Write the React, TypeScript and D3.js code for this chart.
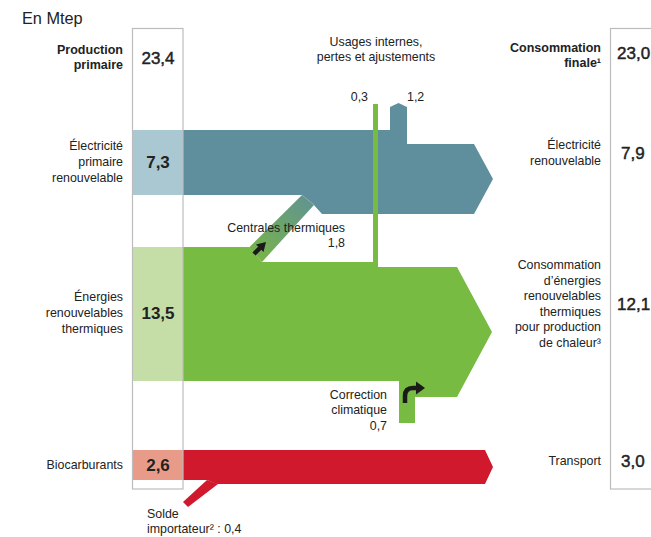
import React from "react";
import * as d3 from "d3";

// ---- data ----
const unit = "En Mtep";
const totalProduction = 23.4;
const totalConsumption = 23.0;
const primaryLabels = [["Électricité", "primaire", "renouvelable"], ["Énergies", "renouvelables", "thermiques"], ["Biocarburants"]];
const primaryValues = [7.3, 13.5, 2.6];
const finalLabels = [["Électricité", "renouvelable"], ["Consommation", "d’énergies", "renouvelables", "thermiques", "pour production", "de chaleur³"], ["Transport"]];
const finalValues = [7.9, 12.1, 3.0];
const centralesValue = 1.8;
const usagesValues = [0.3, 1.2];
const correctionValue = 0.7;
const soldeValue = 0.4;

// ---- layout ----
const W = 651, H = 537;
const FONT = "'Liberation Sans', Arial, Helvetica, sans-serif";
const fmt = (v: number) => d3.format(".1f")(v).replace(".", ",");
const BOX_L = 132.5, BOX_R = 183, BOX_T = 28.5, BOX_B = 489;
const RBOX_L = 610.5;
const bandTop = [130, 247, 450];
const bandBot = [195, 381, 480];
const COLORS = {
  blue: "#5f8f9c", blueLight: "#a9c8d2",
  green: "#78bb43", greenLight: "#c5dea8",
  red: "#d0192c", redLight: "#e99b89",
  text: "#222",
};
const FS = 12.4;

const line = d3.line<[number, number]>();
const poly = (pts: [number, number][]) => line(pts) + "Z";

export default function App() {
  const blue: [number, number][] = [
    [BOX_R, bandTop[0]], [390, bandTop[0]], [390, 107], [398.5, 103], [407, 107], [407, 144],
    [474, 144], [493, 179], [474, 214], [322, 214], [313, 204], [302, bandBot[0]], [BOX_R, bandBot[0]],
  ];
  const green: [number, number][] = [
    [BOX_R, bandTop[1]], [249, bandTop[1]], [262, 262], [373, 262], [373, 104], [378, 104], [378, 267],
    [457, 267], [492, 332], [457, 397], [415, 397], [415, 423], [399, 423], [399, bandBot[1]], [BOX_R, bandBot[1]],
  ];
  const diag: [number, number][] = [[249, 247.5], [302, 195], [314, 205], [262, 262]];
  const red: [number, number][] = [
    [BOX_R, bandTop[2]], [485, bandTop[2]], [493, 467], [485, 484], [217, 484], [207, bandBot[2]], [BOX_R, bandBot[2]],
  ];
  const solde: [number, number][] = [[207, 480], [218, 484], [188, 507], [183, 502]];
  const light = [COLORS.blueLight, COLORS.greenLight, COLORS.redLight];
  const labelCenters = [162, 313, 465];
  const finalCenters = [153, 304, 461];

  const txt = { fontFamily: FONT, fill: COLORS.text } as const;
  const medium = { stroke: COLORS.text, strokeWidth: 0.45 } as const;

  return (
    <svg width={W} height={H} style={{ position: "absolute", left: 0, top: 0, background: "#fff" }}>
      <defs>
        <linearGradient id="diagGrad" x1="0" y1="1" x2="1" y2="0">
          <stop offset="0" stopColor="#7ab645" />
          <stop offset="1" stopColor="#5f9294" />
        </linearGradient>
      </defs>
      <rect x={0} y={0} width={W} height={H} fill="#fff" />
      <text x={22} y={24} fontSize={16.3} {...txt}>{unit}</text>

      {bandTop.map((t, i) => (
        <rect key={i} x={BOX_L} y={t} width={BOX_R - BOX_L} height={bandBot[i] - t} fill={light[i]} />
      ))}

      <path d={poly(blue)} fill={COLORS.blue} />
      <path d={poly(diag)} fill="url(#diagGrad)" />
      <path d={poly(green)} fill={COLORS.green} />
      <path d={poly(red)} fill={COLORS.red} />
      <path d={poly(solde)} fill={COLORS.red} />

      <rect x={BOX_L} y={BOX_T} width={BOX_R - BOX_L} height={BOX_B - BOX_T} fill="none" stroke="#bcbcbc" strokeWidth={1.2} />
      <rect x={RBOX_L} y={BOX_T} width={80} height={BOX_B - BOX_T} fill="none" stroke="#bcbcbc" strokeWidth={1.2} />

      <line x1={254} y1={254} x2={260} y2={248} stroke="#1a1a1a" strokeWidth={4.5} />
      <path d={poly([[266, 242], [256, 244.5], [263.5, 252]])} fill="#1a1a1a" />
      <path d="M405,403 L405,396 Q405,388 413,388 L417,388" fill="none" stroke="#1a1a1a" strokeWidth={4.5} />
      <path d={poly([[425, 388], [416, 381.5], [416, 394.5]])} fill="#1a1a1a" />

      <text x={123} y={54} fontSize={12.5} fontWeight="bold" textAnchor="end" {...txt}>Production</text>
      <text x={123} y={69} fontSize={12.5} fontWeight="bold" textAnchor="end" {...txt}>primaire</text>
      <text x={158} y={64} fontSize={17} textAnchor="middle" {...txt} {...medium}>{fmt(totalProduction)}</text>

      {primaryLabels.map((lines, i) => (
        <g key={i}>
          {lines.map((l, j) => (
            <text key={j} x={123} y={labelCenters[i] + (j - (lines.length - 1) / 2) * 16 + 4} fontSize={FS} textAnchor="end" {...txt}>{l}</text>
          ))}
          <text x={158} y={labelCenters[i] + 6} fontSize={17} fontWeight="bold" textAnchor="middle" {...txt}>{fmt(primaryValues[i])}</text>
        </g>
      ))}

      <text x={601} y={52} fontSize={12.5} fontWeight="bold" textAnchor="end" {...txt}>Consommation</text>
      <text x={601} y={67} fontSize={12.5} fontWeight="bold" textAnchor="end" {...txt}>finale¹</text>
      <text x={617} y={59} fontSize={17} {...txt} {...medium}>{fmt(totalConsumption)}</text>

      {finalLabels.map((lines, i) => (
        <g key={i}>
          {lines.map((l, j) => (
            <text key={j} x={601} y={finalCenters[i] + (j - (lines.length - 1) / 2) * 15.6 + 4} fontSize={FS} textAnchor="end" {...txt}>{l}</text>
          ))}
          <text x={i === 1 ? 617 : 621} y={finalCenters[i] + 6} fontSize={17} {...txt} {...medium}>{fmt(finalValues[i])}</text>
        </g>
      ))}

      <text x={376} y={46} fontSize={FS} textAnchor="middle" {...txt}>Usages internes,</text>
      <text x={376} y={61} fontSize={FS} textAnchor="middle" {...txt}>pertes et ajustements</text>
      <text x={368} y={101} fontSize={FS} textAnchor="end" {...txt}>{fmt(usagesValues[0])}</text>
      <text x={407} y={101} fontSize={FS} {...txt}>{fmt(usagesValues[1])}</text>
      <text x={345} y={232} fontSize={FS} textAnchor="end" {...txt}>Centrales thermiques</text>
      <text x={345} y={247} fontSize={FS} textAnchor="end" {...txt}>{fmt(centralesValue)}</text>
      <text x={387} y={399} fontSize={FS} textAnchor="end" {...txt}>Correction</text>
      <text x={387} y={414} fontSize={FS} textAnchor="end" {...txt}>climatique</text>
      <text x={387} y={430} fontSize={FS} textAnchor="end" {...txt}>{fmt(correctionValue)}</text>
      <text x={147} y={518} fontSize={FS} {...txt}>Solde</text>
      <text x={147} y={533} fontSize={FS} {...txt}>importateur² : {fmt(soldeValue)}</text>
    </svg>
  );
}
